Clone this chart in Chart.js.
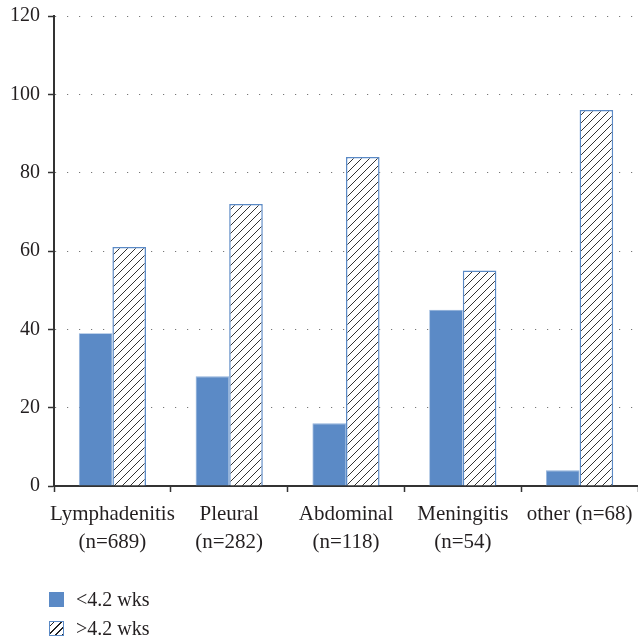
<!DOCTYPE html>
<html>
<head>
<meta charset="utf-8">
<script src="https://cdn.jsdelivr.net/npm/chart.js@4"></script>
<style>
  html, body { margin: 0; padding: 0; background: #fff; }
  #wrap { position: relative; width: 638px; height: 637px; }
  #legend { position: absolute; left: 49px; top: 585px; font-family: "Liberation Serif", serif; font-size: 20px; color: #231f20; }
  .row { display: flex; align-items: center; height: 29px; }
  .sw { width: 15px; height: 15px; margin-right: 12px; box-sizing: border-box; }
  .solid { background: #5b8ac6; }
  .hatch { border: 1.5px solid #5b8ac6; background: repeating-linear-gradient(135deg, #fff 0 2.5px, #222 2.5px 3.5px, #fff 3.5px 5px); }
</style>
</head>
<body>
<div id="wrap">
  <canvas id="c" width="638" height="637"></canvas>
  <div id="legend">
    <div class="row"><div class="sw solid"></div><span id="l0"></span></div>
    <div class="row"><div class="sw hatch"></div><span id="l1"></span></div>
  </div>
</div>
<script>
const categories = [["Lymphadenitis", "(n=689)"], ["Pleural", "(n=282)"], ["Abdominal", "(n=118)"], ["Meningitis", "(n=54)"], "other (n=68)"];
const seriesNames = ["<4.2 wks", ">4.2 wks"];
const shortValues = [39, 28, 16, 45, 4];
const longValues = [61, 72, 84, 55, 96];
const yTicks = [0, 20, 40, 60, 80, 100, 120];

document.getElementById('l0').textContent = seriesNames[0];
document.getElementById('l1').textContent = seriesNames[1];

function hatchPattern() {
  const s = 8;
  const pc = document.createElement('canvas');
  pc.width = s; pc.height = s;
  const p = pc.getContext('2d');
  p.fillStyle = '#fff';
  p.fillRect(0, 0, s, s);
  p.strokeStyle = '#333';
  p.lineWidth = 1;
  p.beginPath();
  p.moveTo(-1, s + 1); p.lineTo(s + 1, -1);
  p.moveTo(-1, 1); p.lineTo(1, -1);
  p.moveTo(s - 1, s + 1); p.lineTo(s + 1, s - 1);
  p.stroke();
  return document.getElementById('c').getContext('2d').createPattern(pc, 'repeat');
}

const font = { family: "'Liberation Serif', serif", size: 20 };
const ink = '#231f20';
const axis = '#333333';

new Chart(document.getElementById('c'), {
  type: 'bar',
  data: {
    labels: categories,
    datasets: [
      { label: seriesNames[0], data: shortValues, backgroundColor: '#5b8ac6', borderColor: '#8fb0da', borderWidth: 0.8,
        barPercentage: 1, categoryPercentage: 0.575 },
      { label: seriesNames[1], data: longValues, backgroundColor: hatchPattern(), borderColor: '#5b8ac6', borderWidth: 1.5,
        barPercentage: 1, categoryPercentage: 0.575 }
    ]
  },
  options: {
    responsive: false,
    animation: false,
    layout: { padding: { top: 16, right: 0, left: 0, bottom: 81 } },
    plugins: { legend: { display: false }, tooltip: { enabled: false } },
    scales: {
      x: {
        grid: { display: true, drawOnChartArea: false, drawTicks: true, tickLength: 6, tickColor: axis, tickWidth: 1.5, offset: true },
        border: { display: true, color: axis, width: 2 },
        ticks: { color: ink, font: { family: font.family, size: 21, lineHeight: 1.35 }, padding: 8, maxRotation: 0, autoSkip: false },
        afterFit: s => { s.height = 70; s.paddingLeft = 0; s.paddingRight = 0; }
      },
      y: {
        min: 0, max: 120,
        afterBuildTicks: s => { s.ticks = yTicks.map(v => ({ value: v })); },
        grid: { color: '#777', lineWidth: 1, drawTicks: true, tickLength: 6, tickColor: axis, tickWidth: 1.5, tickBorderDash: [] },
        border: { display: true, color: axis, width: 2, dash: [1.2, 10.8] },
        ticks: { color: ink, font: font, padding: 8 },
        afterFit: s => { s.width = 54; s.paddingTop = 0; s.paddingBottom = 0; }
      }
    }
  }
});
</script>
</body>
</html>
